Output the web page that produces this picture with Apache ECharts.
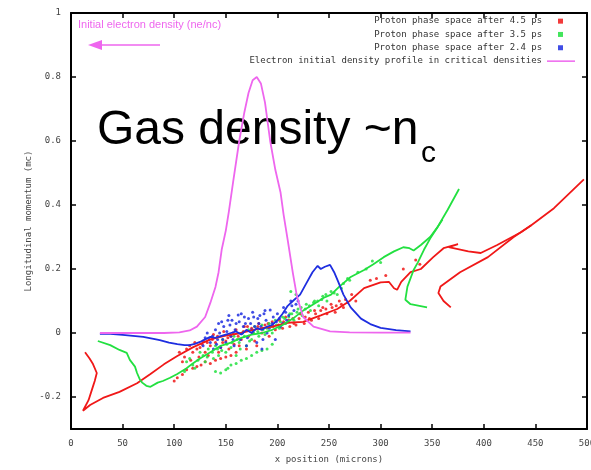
<!DOCTYPE html>
<html><head><meta charset="utf-8">
<script src="https://cdn.jsdelivr.net/npm/echarts@6/dist/echarts.min.js"></script>
<style>html,body{margin:0;padding:0;background:#fff}#c{width:591px;height:470px}</style>
</head><body><div id="c"></div>
<script>
const xTickValues = [0,50,100,150,200,250,300,350,400,450,500];
const yTickValues = [-0.2,0,0.2,0.4,0.6,0.8,1];
const seriesNames = ['Proton phase space after 4.5 ps','Proton phase space after 3.5 ps','Proton phase space after 2.4 ps','Electron initial density profile in critical densities'];

// red (4.5 ps)
const redLine = [[13.6,-0.06],[18,-0.08],[21,-0.095],[25,-0.125],[23,-0.15],[21,-0.17],[17,-0.21],[11.6,-0.243],[18.5,-0.225],[31,-0.203],[47,-0.184],[64,-0.157],[77,-0.128],[90,-0.098],[103,-0.072],[118,-0.045],[135,-0.02],[150,-0.008],[165,0.0],[180,0.012],[195,0.02],[210,0.032],[225,0.035],[242,0.055],[258,0.075],[270,0.1],[284,0.14],[300,0.158],[308,0.16],[313,0.14],[316,0.135],[320,0.16],[329,0.19],[339,0.2],[351,0.237],[361,0.265],[375,0.278],[366,0.268],[385,0.255],[397,0.25],[413,0.275],[436,0.315],[446,0.337],[468,0.39],[497,0.48]];
const redFold = [[446,0.337],[429,0.30],[404,0.237],[377,0.19],[358,0.145],[356,0.125],[361,0.1],[368,0.08]];
const redCloud = [[105,-0.06],[110,-0.075],[112,-0.05],[118,-0.06],[120,-0.03],[125,-0.045],[128,-0.025],[130,-0.06],[135,-0.04],[138,-0.005],[140,-0.03],[145,-0.045],[148,0.005],[150,-0.025],[155,-0.01],[158,-0.035],[160,0.01],[165,-0.02],[168,0.02],[172,-0.01],[175,0.015],[178,-0.025],[182,0.03],[185,0.0],[188,0.025],[192,-0.01],[195,0.035],[198,0.01],[202,0.04],[205,0.015],[208,0.05],[212,0.02],[215,0.045],[218,0.025],[222,0.06],[226,0.03],[230,0.065],[233,0.04],[236,0.07],[240,0.045],[244,0.08],[248,0.06],[252,0.09],[256,0.065],[260,0.1],[264,0.08],[268,0.095],[272,0.12],[276,0.1],
 [115,-0.04],[122,-0.05],[127,-0.035],[132,-0.03],[137,-0.02],[142,-0.01],[147,-0.03],[152,-0.015],[157,0.0],[162,-0.01],[167,0.005],[171,0.02],[176,0.0],[181,0.02],[186,0.015],[191,0.03],[196,0.02],[201,0.025],[206,0.035],[211,0.04],[216,0.03],[221,0.045],[227,0.05],[231,0.045],[237,0.06],[242,0.07],[247,0.075],[253,0.08],[257,0.085],[262,0.09],[266,0.105],
 [100,-0.15],[103,-0.14],[108,-0.13],[112,-0.115],[118,-0.11],[122,-0.105],[126,-0.1],[130,-0.09],[135,-0.095],[140,-0.085],[145,-0.08],[150,-0.075],[155,-0.07],[160,-0.06],[170,-0.05],[180,-0.04],
 [108,-0.09],[116,-0.085],[124,-0.075],[133,-0.07],[143,-0.06],[153,-0.05],[163,-0.04],
 [290,0.165],[296,0.17],[305,0.18],[322,0.2],[334,0.228],[338,0.215]];

// green (3.5 ps)
const greenLine = [[26,-0.025],[38,-0.038],[47,-0.053],[54,-0.062],[57,-0.084],[62,-0.105],[64,-0.125],[67,-0.147],[69,-0.155],[73,-0.165],[77,-0.168],[84,-0.155],[89,-0.15],[96,-0.14],[103,-0.128],[112,-0.11],[118,-0.095],[125,-0.08],[135,-0.06],[145,-0.04],[155,-0.03],[165,-0.015],[175,-0.005],[185,0.0],[195,0.01],[205,0.025],[215,0.045],[225,0.07],[235,0.09],[245,0.11],[252,0.12],[260,0.145],[271,0.175],[284,0.197],[293,0.215],[303,0.237],[313,0.255],[322,0.268],[328,0.265],[332,0.258],[339,0.275],[348,0.3],[355,0.33],[365,0.385],[376,0.45]];
const greenFold = [[360,0.355],[355,0.33],[348,0.295],[342,0.26],[336,0.22],[332,0.197],[326,0.145],[324,0.104],[329,0.09],[345,0.08]];
const greenCloud = [[110,-0.12],[115,-0.08],[120,-0.11],[125,-0.06],[130,-0.09],[133,-0.05],[138,-0.08],[140,-0.04],[143,-0.07],[147,-0.02],[150,-0.06],[152,-0.11],[155,-0.045],[158,-0.01],[160,-0.07],[163,-0.03],[166,0.0],[170,-0.04],[172,0.01],[175,-0.02],[178,0.02],[182,-0.01],[185,0.025],[188,-0.005],[192,0.03],[195,0.0],[198,0.04],[202,0.015],[205,0.05],[208,0.03],[212,0.06],[216,0.04],[220,0.075],[224,0.055],[228,0.09],[232,0.07],[236,0.1],[240,0.085],[244,0.115],[248,0.1],[252,0.13],[258,0.12],[264,0.155],[270,0.165],[278,0.19],[286,0.2],[292,0.225],[300,0.22],
 [112,-0.09],[118,-0.1],[123,-0.085],[128,-0.07],[132,-0.075],[137,-0.06],[142,-0.05],[146,-0.055],[151,-0.035],[156,-0.03],[161,-0.02],[164,-0.05],[168,-0.01],[173,-0.025],[177,0.0],[181,0.005],[186,0.01],[190,0.015],[194,0.02],[199,0.025],[203,0.035],[207,0.045],[211,0.05],[214,0.06],[219,0.065],[223,0.08],[227,0.075],[231,0.085],[235,0.095],[239,0.1],[243,0.105],[247,0.12],[255,0.125],[262,0.14],[268,0.17],
 [140,-0.12],[145,-0.125],[150,-0.115],[155,-0.1],[160,-0.095],[165,-0.085],[170,-0.08],[175,-0.07],[180,-0.06],[185,-0.055],[190,-0.05],[195,-0.035],[213,0.13],[218,0.12]];

// blue (2.4 ps)
const blueLine = [[28,-0.003],[38,-0.003],[50,-0.006],[60,-0.009],[70,-0.012],[80,-0.018],[86,-0.022],[95,-0.03],[103,-0.035],[110,-0.038],[115,-0.038],[120,-0.034],[125,-0.028],[130,-0.02],[135,-0.012],[140,-0.015],[145,-0.01],[150,-0.005],[155,0.0],[160,0.005],[165,-0.005],[170,0.01],[175,0.0],[180,0.015],[185,0.01],[190,0.02],[195,0.025],[200,0.04],[205,0.06],[210,0.085],[215,0.1],[222,0.12],[228,0.155],[234,0.19],[239,0.21],[242,0.2],[246,0.207],[251,0.213],[255,0.19],[259,0.16],[264,0.12],[271,0.08],[281,0.045],[290,0.028],[300,0.016],[315,0.009],[329,0.005]];
const blueCloud = [[128,-0.04],[132,0.0],[135,-0.03],[138,-0.05],[140,0.01],[142,-0.02],[145,-0.045],[148,0.02],[150,-0.03],[152,0.04],[155,-0.01],[158,-0.04],[160,0.03],[162,0.056],[164,-0.02],[167,0.02],[170,-0.04],[172,0.045],[175,0.01],[177,0.05],[180,-0.03],[182,0.03],[185,-0.05],[187,0.06],[190,0.0],[193,0.072],[195,0.03],[198,-0.02],[200,0.06],[203,0.02],[206,0.08],[209,0.04],[213,0.1],[216,0.07],[220,0.1],[156,0.04],[168,0.05],[183,0.055],[146,0.035],
 [130,-0.015],[134,-0.02],[137,-0.01],[141,-0.035],[144,0.0],[147,-0.02],[151,0.005],[154,0.025],[157,-0.02],[159,0.01],[163,0.035],[166,0.0],[169,0.03],[171,-0.015],[174,0.03],[178,0.02],[181,0.045],[184,0.02],[186,-0.02],[189,0.04],[192,0.015],[196,0.05],[199,0.035],[202,0.045],[205,0.03],[208,0.065],[211,0.055],[214,0.085],[218,0.09],[143,0.03],[153,0.055],[165,0.06],[176,0.065],[188,0.07]];

// magenta electron density
const densityProfile = [[28,0],[60,0],[90,0],[105,0.002],[115,0.008],[122,0.02],[130,0.05],[135,0.094],[140,0.144],[143,0.19],[146,0.26],[150,0.32],[153,0.38],[157,0.47],[163,0.6],[168,0.69],[172,0.75],[176,0.79],[180,0.8],[184,0.78],[188,0.72],[193,0.6],[198,0.51],[203,0.44],[206,0.37],[210,0.29],[215,0.187],[219,0.113],[225,0.05],[235,0.02],[251,0.005],[270,0.002],[300,0.001],[329,0.001]];

const RED='#f01818', GREEN='#22e040', BLUE='#1e2ee0', MAG='#ee66ee';
const mono = 'DejaVu Sans Mono';
const chart = echarts.init(document.getElementById('c'), null, {renderer:'canvas'});
const axisLine = {show:true, onZero:false, lineStyle:{color:'#000', width:2}};
const tick = {show:true, inside:true, length:5, lineStyle:{color:'#000', width:1.5}};
function lineS(name, data, color){return {name, type:'line', data, showSymbol:false, symbol:'none', lineStyle:{color, width:1.8}, itemStyle:{color}, z:3, animation:false};}
function scatS(name, data, color){return {name, type:'scatter', data, symbolSize:3, itemStyle:{color, opacity:0.85}, z:2, animation:false};}
chart.setOption({
  animation:false,
  grid:{left:71, right:4, top:13, bottom:41, outerBoundsMode:'none', containLabel:false},
  xAxis:[
    {type:'value', min:0, max:500, interval:50, position:'bottom', axisLine, axisTick:tick, splitLine:{show:false},
     axisLabel:{color:'#444', fontFamily:mono, fontSize:9, margin:10},
     name:'x position (microns)', nameLocation:'middle', nameGap:26, nameMoveOverlap:false, nameTextStyle:{color:'#444', fontFamily:mono, fontSize:9}},
    {type:'value', min:0, max:500, interval:50, position:'top', axisLine, axisTick:tick, axisLabel:{show:false}, splitLine:{show:false}}
  ],
  yAxis:[
    {type:'value', min:-0.3, max:1, position:'left', axisLine, splitLine:{show:false},
     axisTick:Object.assign({customValues:yTickValues}, tick),
     axisLabel:{customValues:yTickValues, color:'#444', fontFamily:mono, fontSize:9, margin:10, formatter:v=>String(Math.round(v*10)/10)},
     name:'Longitudinal momentum (mc)', nameLocation:'middle', nameGap:38, nameMoveOverlap:false, nameRotate:90, nameTextStyle:{color:'#444', fontFamily:mono, fontSize:9}},
    {type:'value', min:-0.3, max:1, position:'right', axisLine, splitLine:{show:false},
     axisTick:Object.assign({customValues:yTickValues}, tick), axisLabel:{show:false}}
  ],
  legend:[
    {orient:'vertical', align:'right', right:28, top:14.5, padding:0, itemWidth:5, itemHeight:5, itemGap:0,
     data:seriesNames.slice(0,3).map(n=>({name:n, icon:'rect'})),
     formatter:n=>n+'  ', textStyle:{fontFamily:mono, fontSize:9, color:'#333', lineHeight:13.3}, selectedMode:false},
    {orient:'vertical', align:'right', right:16, top:54.5, padding:0, itemWidth:28, itemHeight:1.5, itemGap:0,
     data:[{name:seriesNames[3], icon:'rect'}],
     textStyle:{fontFamily:mono, fontSize:9, color:'#333', lineHeight:13.3}, selectedMode:false}
  ],
  graphic:[
    {type:'text', left:78, top:19, style:{text:'Initial electron density (ne/nc)', fill:MAG, font:'11px "Liberation Sans"'}},
    {type:'line', shape:{x1:97, y1:45, x2:160, y2:45}, style:{stroke:MAG, lineWidth:1.5}},
    {type:'polygon', shape:{points:[[88,45],[102,40],[102,50]]}, style:{fill:MAG}},
    {type:'text', left:97, top:107, style:{text:'Gas density ~n', fill:'#000', font:'48px "Liberation Sans"'}},
    {type:'text', left:421, top:139, style:{text:'c', fill:'#000', font:'30px "Liberation Sans"'}}
  ],
  series:[
    scatS(seriesNames[0], redCloud, RED),
    lineS(seriesNames[0], redLine, RED),
    lineS(seriesNames[0], redFold, RED),
    scatS(seriesNames[1], greenCloud, GREEN),
    lineS(seriesNames[1], greenLine, GREEN),
    lineS(seriesNames[1], greenFold, GREEN),
    scatS(seriesNames[2], blueCloud, BLUE),
    lineS(seriesNames[2], blueLine, BLUE),
    lineS(seriesNames[3], densityProfile, MAG)
  ]
});
</script></body></html>
